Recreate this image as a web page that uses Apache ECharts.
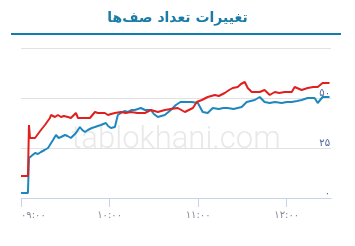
<!DOCTYPE html>
<html><head><meta charset="utf-8">
<script src="https://cdn.jsdelivr.net/npm/echarts@6/dist/echarts.min.js"></script>
<style>html,body{margin:0;padding:0;background:#fff}#c{width:355px;height:246px}</style>
</head><body><div id="c"></div>
<script>
const chartTitle = 'تغییرات تعداد صف‌ها';
const watermark = 'tablokhani.com';
const xTickMinutes = [0, 60, 120, 180];
const xTickLabels = ['۰۹:۰۰', '۱۰:۰۰', '۱۱:۰۰', '۱۲:۰۰'];
const yTickLabels = {0: '۰', 25: '۲۵', 50: '۵۰', 75: ''};
// minutes after 09:00
const blueMinutes = [0, 4.7, 5.4, 9.5, 11.5, 13.5, 16, 18.3, 20, 21.7, 23.7, 25.5, 27.1, 29.8, 31.5, 33.8, 37.2, 39.9, 41.5, 43.3, 45.3, 48, 50.1, 52, 54.1, 57.5, 59, 60.9, 63.6, 65.6, 67.7, 70, 72.4, 75, 77.1, 81.2, 84, 88, 90, 92.7, 95, 97.4, 101.5, 104.9, 108, 112, 115.7, 119.8, 123.1, 126.5, 129.9, 134, 137, 140, 144, 149.5, 152.9, 158.3, 161.7, 165, 168.5, 172, 176.6, 180, 183.4, 187, 190.1, 194.2, 198.9, 201, 204.3, 209];
const blueValues  = [2.5, 2.5, 20, 22.5, 22, 23, 24, 25, 27, 29, 31.5, 30, 30.5, 31.5, 31, 30, 32.5, 35.5, 34, 33, 34, 35, 35.5, 36, 36.5, 37.5, 36, 35, 35.5, 41.5, 42.5, 43.5, 43, 44, 44, 45, 44, 44, 42, 40.5, 41, 41.5, 44, 46.5, 48, 48, 48, 47.5, 43, 42.5, 45, 44.5, 45, 45, 44.5, 45.5, 48, 49, 50.5, 48, 47.5, 48, 47.5, 48, 48, 48.5, 49, 50, 50, 47.5, 50.5, 50.5];
const redMinutes = [0, 4.7, 5.4, 6.1, 9.5, 10.1, 13.5, 16.2, 19.6, 20.3, 23, 25, 27.1, 29, 31.8, 33.8, 37.2, 38.6, 43.3, 46.7, 50.1, 52.1, 56.8, 58.9, 61, 63.6, 67.7, 71, 74.4, 79, 83.9, 88, 92.7, 97.4, 101.5, 106.2, 111, 116.4, 119.1, 122.5, 126.5, 131.3, 134, 138, 141, 143.4, 146.8, 149, 151.6, 153.6, 156.3, 161.7, 165, 168.5, 171.9, 175, 178.6, 183.4, 185.4, 190.1, 194.2, 198, 201, 204.3, 209];
const redValues  = [11, 11, 36.5, 30, 30, 30.5, 34, 36.5, 40, 41.5, 40.5, 41.5, 40.5, 41, 40.5, 40, 42.5, 40, 40, 40, 43, 42.5, 42.5, 41.5, 42, 42.5, 43, 42.5, 43, 42.5, 42.5, 44, 43, 44, 44.5, 45, 43, 45, 48, 49, 50.5, 51.5, 51, 52.5, 54, 55, 55.5, 57, 58, 55, 53, 53, 54, 51.5, 53, 52.5, 53, 53, 55.5, 54, 55, 55.5, 55.5, 57.5, 57.5];

const blueData = blueMinutes.map((m, i) => [m, blueValues[i]]);
const redData = redMinutes.map((m, i) => [m, redValues[i]]);

const chart = echarts.init(document.getElementById('c'), null, {renderer: 'canvas'});
chart.setOption({
  animation: false,
  title: {
    text: chartTitle, left: 'center', top: 6,
    textStyle: {color: '#1a7ca6', fontSize: 14, fontWeight: 'bold', fontFamily: 'DejaVu Sans'}
  },
  graphic: [
    {type: 'rect', shape: {x: 11, y: 33, width: 330, height: 2}, style: {fill: '#137cb0'}},
    {type: 'text', x: 176, y: 140, z: 0, style: {text: watermark, fill: '#e9e9e9', font: '300 31px Roboto', textAlign: 'center', textVerticalAlign: 'middle'}}
  ],
  grid: {left: 21, right: 24, top: 48, bottom: 48},
  xAxis: {
    type: 'value', min: 0, max: 210,
    axisLine: {show: true, lineStyle: {color: '#c8d5e8', width: 1}},
    axisTick: {show: true, length: 9, customValues: xTickMinutes, lineStyle: {color: '#c8d5e8'}},
    axisLabel: {customValues: xTickMinutes, formatter: v => xTickLabels[xTickMinutes.indexOf(v)] || '', color: '#8a8898', fontSize: 10, margin: 12, alignMinLabel: 'left', fontFamily: 'DejaVu Sans'},
    splitLine: {show: false}
  },
  yAxis: {
    type: 'value', position: 'right', min: 0, max: 75, interval: 25,
    axisLine: {show: false}, axisTick: {show: false},
    axisLabel: {inside: true, formatter: v => yTickLabels[v], color: '#4a66a0', fontSize: 10, margin: 1, verticalAlign: 'bottom', fontFamily: 'DejaVu Sans'},
    splitLine: {lineStyle: {color: '#e2e2e2', width: 1}}
  },
  series: [
    {type: 'line', data: blueData, symbol: 'none', lineStyle: {color: '#1e88be', width: 2}, z: 3},
    {type: 'line', data: redData, symbol: 'none', lineStyle: {color: '#e0201e', width: 2}, z: 4}
  ]
});
</script></body></html>
